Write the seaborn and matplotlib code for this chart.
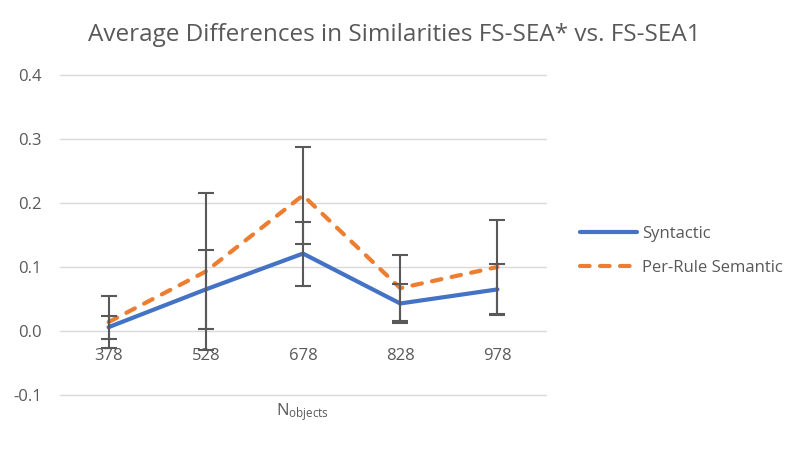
import pandas as pd
import matplotlib.pyplot as plt
import seaborn as sns

# values
n_objects = [378, 528, 678, 828, 978]
syntactic = [0.006, 0.065, 0.121, 0.043, 0.065]
syntactic_err = [0.018, 0.062, 0.050, 0.030, 0.040]
per_rule = [0.014, 0.093, 0.212, 0.067, 0.100]
per_rule_err = [0.041, 0.122, 0.076, 0.052, 0.073]
y_ticks = [-0.1, 0.0, 0.1, 0.2, 0.3, 0.4]

title = "Average Differences in Similarities FS-SEA* vs. FS-SEA1"
grey = "#595959"

sns.set_style("white")
plt.rcParams["font.family"] = ["Open Sans", "DejaVu Sans"]
plt.rcParams["mathtext.default"] = "regular"

df = pd.DataFrame({
    "n": n_objects + n_objects,
    "diff": syntactic + per_rule,
    "method": ["Syntactic"] * 5 + ["Per-Rule Semantic"] * 5,
})

fig = plt.figure(figsize=(8, 4.49), dpi=100)
ax = fig.add_axes([60 / 800, 1 - 395 / 449, 486 / 800, 320 / 449])

sns.lineplot(
    data=df, x="n", y="diff", hue="method", style="method",
    palette={"Syntactic": "#4472C4", "Per-Rule Semantic": "#ED7D31"},
    dashes={"Syntactic": "", "Per-Rule Semantic": (2.3, 2.5)},
    linewidth=3, ax=ax, legend=True,
)
for line in ax.lines:
    line.set_solid_capstyle("round")
    line.set_dash_capstyle("round")

# error bars on top of the lines
ax.errorbar(n_objects, syntactic, yerr=syntactic_err, fmt="none",
            ecolor=grey, elinewidth=1.5, capsize=6, capthick=1.5, zorder=5)
ax.errorbar(n_objects, per_rule, yerr=per_rule_err, fmt="none",
            ecolor=grey, elinewidth=1.5, capsize=6, capthick=1.5, zorder=5)

ax.set_xlim(303, 1053)
ax.set_ylim(-0.1, 0.4)
ax.set_yticks(y_ticks)
ax.set_yticklabels([f"{v:.1f}" for v in y_ticks])
ax.set_xticks(n_objects)
ax.set_xticklabels([str(v) for v in n_objects])
ax.grid(axis="y", color="#D9D9D9", linewidth=1.0)
for gl in ax.get_ygridlines():
    gl.set_clip_on(False)
ax.set_axisbelow(True)
for s in ax.spines.values():
    s.set_visible(False)

# category axis crosses at zero like the original
ax.spines["bottom"].set_position(("data", 0))
ax.tick_params(axis="x", length=0, pad=12, labelsize=12, labelcolor=grey)
ax.tick_params(axis="y", length=0, pad=13, labelsize=12, labelcolor=grey)
ax.set_xlabel("")
ax.set_ylabel("")

ax.text(0.5, -0.053, r"N$_{objects}$", transform=ax.transAxes,
        ha="center", va="center", fontsize=12, color=grey)

handles, labels = ax.get_legend_handles_labels()
leg = ax.legend(handles, labels, loc="center left",
                bbox_to_anchor=(565 / 800, 1 - 251 / 449),
                bbox_transform=fig.transFigure, frameon=False,
                fontsize=12, handlelength=3.4, handletextpad=0.35,
                labelspacing=1.05)
for t in leg.get_texts():
    t.set_color(grey)

fig.text(0.493, 1 - 35 / 449, title, ha="center", va="center",
         fontsize=17.5, color=grey)

fig.savefig("out.png", dpi=100)
